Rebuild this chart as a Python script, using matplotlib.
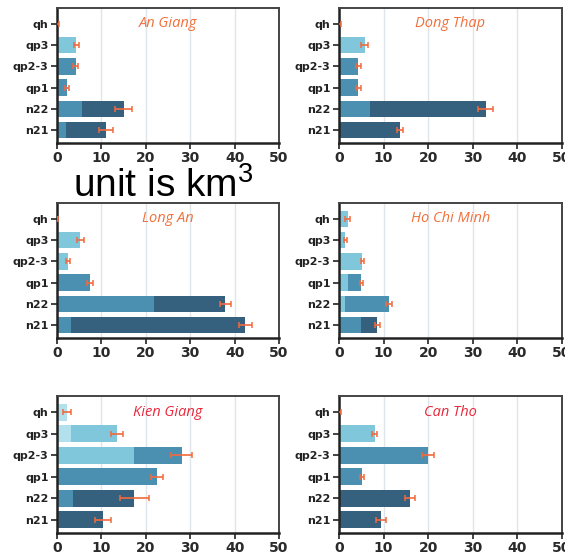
import matplotlib
matplotlib.use("Agg")
import matplotlib.pyplot as plt
import numpy as np

layers = ["qh", "qp3", "qp2-3", "qp1", "n22", "n21"]
provinces = ["An Giang", "Dong Thap", "Long An", "Ho Chi Minh", "Kien Giang", "Can Tho"]
title_colors = ["#f0703c", "#f0703c", "#f0703c", "#f0703c", "#e8283c", "#e8283c"]

# segment lengths per province (rows), per layer (qh, qp3, qp2-3, qp1, n22, n21)
seg_lightest = [
    [0, 0, 0, 0, 0, 0],
    [0, 0, 0, 0, 0, 0],
    [0, 0, 0, 0, 0, 0],
    [0, 0, 0, 0, 0, 0],
    [2.25, 3.2, 0, 0, 0, 0],
    [0, 0, 0, 0, 0, 0],
]
seg_light = [
    [0.1, 4.35, 0, 0, 0, 0],
    [0.1, 5.75, 0, 0, 0, 0],
    [0.1, 5.25, 2.5, 0, 0, 0],
    [2.0, 1.4, 5.2, 2.0, 1.3, 0],
    [0, 10.3, 17.4, 0, 0, 0],
    [0.1, 8.0, 0, 0, 0, 0],
]
seg_medium = [
    [0, 0, 4.2, 2.2, 5.6, 2.0],
    [0, 0, 4.3, 4.3, 6.9, 0],
    [0, 0, 0, 7.35, 21.8, 3.15],
    [0, 0, 0, 3.0, 9.9, 5.0],
    [0, 0, 10.7, 22.5, 3.6, 0],
    [0, 0, 20.0, 5.2, 0, 0],
]
seg_dark = [
    [0, 0, 0, 0, 9.4, 9.0],
    [0, 0, 0, 0, 26.0, 13.75],
    [0, 0, 0, 0, 16.1, 39.25],
    [0, 0, 0, 0, 0, 3.6],
    [0, 0, 0, 0, 13.8, 10.4],
    [0, 0, 0, 0, 15.85, 9.5],
]
errors = [
    [0.3, 0.55, 0.5, 0.5, 2.0, 1.6],
    [0.3, 0.75, 0.6, 0.6, 1.7, 0.7],
    [0.2, 0.85, 0.4, 0.65, 1.3, 1.5],
    [0.55, 0.3, 0.3, 0.4, 0.7, 0.6],
    [1.0, 1.3, 2.4, 1.3, 3.3, 1.75],
    [0.3, 0.6, 1.4, 0.5, 1.1, 1.1],
]

shades = ["#b3e0ed", "#80c7dc", "#4b90b0", "#35617f"]

fig = plt.figure(figsize=(5.65, 5.55), dpi=100)

# axes boxes in figure fraction
col_x = [(0.1009, 0.3929), (0.600, 0.3947)]
row_y = [(0.7423, 0.2432), (0.3910, 0.2432), (0.0396, 0.2468)]

ypos = np.arange(len(layers))[::-1]

for i, name in enumerate(provinces):
    r, c = divmod(i, 2)
    ax = fig.add_axes([col_x[c][0], row_y[r][0], col_x[c][1], row_y[r][1]])
    left = np.zeros(len(layers))
    for segs, col in zip([seg_lightest, seg_light, seg_medium, seg_dark], shades):
        vals = np.array(segs[i], dtype=float)
        ax.barh(ypos, vals, left=left, height=0.78, color=col, linewidth=0, zorder=2)
        left = left + vals
    ax.errorbar(left, ypos, xerr=errors[i], fmt="none", ecolor="#f26a3d",
                elinewidth=1.2, capsize=2.5, capthick=1.1, zorder=3)

    ax.set_xlim(0, 50)
    ax.set_ylim(-0.61, 5.75)
    ax.set_xticks([0, 10, 20, 30, 40, 50])
    ax.set_yticks(ypos)
    ax.set_yticklabels(layers, fontsize=8, fontweight="bold", color="#222222")
    for lab in ax.get_xticklabels():
        lab.set_fontsize(10)
        lab.set_fontweight("bold")
        lab.set_color("#2a2a2a")
    ax.grid(axis="x", color="#dfe5e8", linewidth=1, zorder=0)
    ax.set_axisbelow(True)
    ax.tick_params(axis="both", direction="out", length=4, width=1.2, pad=2, color="#222222")
    for side in ["left", "bottom"]:
        ax.spines[side].set_linewidth(1.8)
        ax.spines[side].set_color("#222222")
    for side in ["top", "right"]:
        ax.spines[side].set_linewidth(1.4)
        ax.spines[side].set_color("#444444")

    ax.text(25, ypos[0], name, ha="center", va="center", fontsize=10.5,
            style="italic", family="Open Sans", color=title_colors[i], zorder=4)

plt.rcParams["mathtext.fontset"] = "custom"
plt.rcParams["mathtext.rm"] = "Liberation Sans"
fig.text(73 / 565, 1 - 197 / 555, r"unit is km$^{\rm 3}$", fontsize=28,
         family="Liberation Sans", color="black", ha="left", va="baseline")

fig.savefig("out.png", dpi=100)
